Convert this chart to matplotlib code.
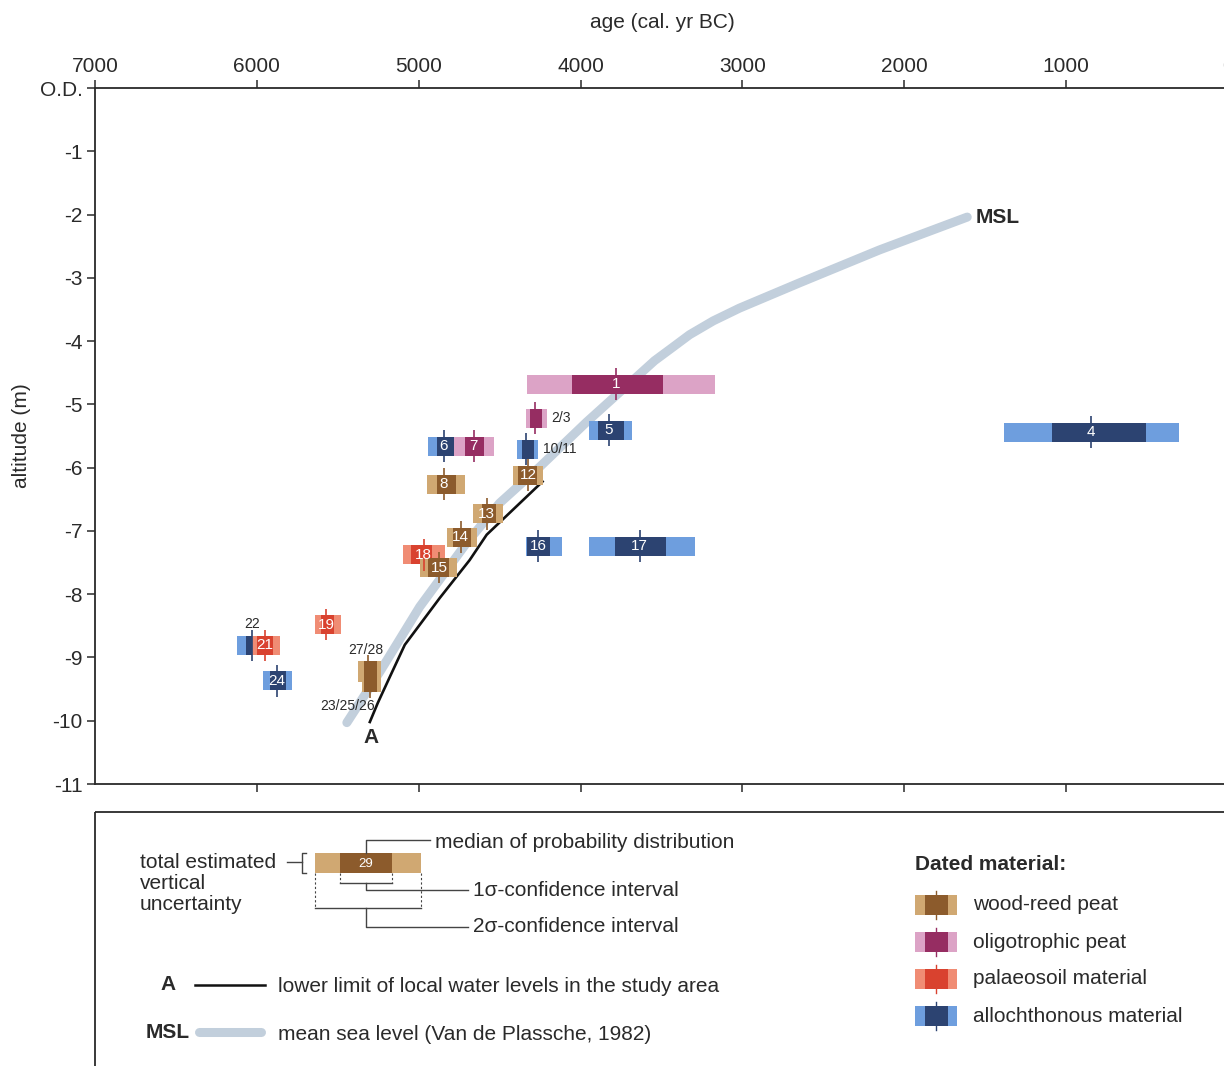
import matplotlib.pyplot as plt
from matplotlib.patches import Rectangle

plt.rcParams['font.family'] = ['Liberation Sans', 'DejaVu Sans']

# radiocarbon samples (cal. yr BC, altitude in m O.D.)
labels = ["1", "2/3", "4", "5", "6", "7", "8", "10/11", "12", "13", "14",
          "18", "15", "16", "17", "19", "22", "21", "24", "27/28", "23/25/26"]
material = ["oligo", "oligo", "alloch", "alloch", "alloch", "oligo", "wood",
            "alloch", "wood", "wood", "wood", "palaeo", "wood", "alloch",
            "alloch", "palaeo", "alloch", "palaeo", "alloch", "wood", "wood"]
sig2_old = [4330, 4335, 1385, 3945, 4940, 4780, 4950, 4390, 4420, 4665, 4825,
            5095, 4995, 4335, 3950, 5640, 6120, 6030, 5965, 5375, 5350]
sig2_young = [3170, 4210, 300, 3685, 4760, 4535, 4715, 4265, 4230, 4480, 4640,
              4840, 4765, 4115, 3290, 5480, 6025, 5860, 5780, 5230, 5230]
sig1_old = [4050, 4310, 1085, 3890, 4890, 4715, 4890, 4360, 4385, 4610, 4790,
            5045, 4945, 4330, 3790, 5605, 6070, 6000, 5920, 5340, 5340]
sig1_young = [3490, 4240, 505, 3730, 4785, 4595, 4770, 4290, 4270, 4520, 4675,
              4915, 4810, 4190, 3470, 5525, 6025, 5900, 5820, 5255, 5255]
median = [3780, 4280, 845, 3825, 4845, 4660, 4845, 4335, 4325, 4580, 4740,
          4970, 4875, 4260, 3635, 5570, 6030, 5950, 5875, 5315, 5300]
altitude = [-4.68, -5.22, -5.44, -5.41, -5.66, -5.66, -6.26, -5.71, -6.12, -6.73, -7.10,
            -7.38, -7.58, -7.24, -7.24, -8.48, -8.81, -8.81, -9.37, -9.22, -9.38]
v_unc = [0.30] * 19 + [0.33, 0.32]

# mean sea level (Van de Plassche, 1982)
msl_age = [5444, 5241, 4994, 4704, 4500, 4253, 3963, 3716, 3543, 3432, 3327, 3180,
           3019, 2648, 2154, 1611]
msl_alt = [-10.03, -9.23, -8.20, -7.19, -6.56, -5.99, -5.28, -4.71, -4.31, -4.10,
           -3.90, -3.68, -3.48, -3.08, -2.56, -2.04]

# line A: lower limit of local water levels
a_age = [5302, 5253, 5179, 5086, 4870, 4685, 4580, 4235]
a_alt = [-10.02, -9.72, -9.31, -8.80, -8.06, -7.46, -7.06, -6.22]

colors = {"wood": ("#d0a872", "#8c5b2c"),
          "oligo": ("#dca3c6", "#962d62"),
          "palaeo": ("#f08c74", "#d9422f"),
          "alloch": ("#6e9ede", "#2c4371")}
mat_names = [("wood", "wood-reed peat"), ("oligo", "oligotrophic peat"),
             ("palaeo", "palaeosoil material"), ("alloch", "allochthonous material")]

W, H = 1224, 1066
fig = plt.figure(figsize=(W / 100, H / 100), dpi=100)
fig.patch.set_facecolor("white")
ax = fig.add_axes([95 / W, 1 - 784 / H, 1133 / W, 696 / H])
ax.set_xlim(7000, 0)
ax.set_ylim(-11, 0)

ink = "#2a2a2a"
msl_col = "#c2cfdc"
fs = 15

ax.plot(msl_age, msl_alt, color=msl_col, lw=6.5, solid_capstyle="round",
        solid_joinstyle="round", zorder=1)
ax.plot(a_age, a_alt, color="#111111", lw=1.9, solid_joinstyle="round", zorder=2)

for i, lab in enumerate(labels):
    light, dark = colors[material[i]]
    y = altitude[i]
    h = v_unc[i]
    ax.barh(y, sig2_old[i] - sig2_young[i], left=sig2_young[i], height=h,
            color=light, lw=0, zorder=3)
    ax.barh(y, sig1_old[i] - sig1_young[i], left=sig1_young[i], height=h,
            color=dark, lw=0, zorder=3)
    ax.vlines(median[i], y - h / 2 - 0.1, y + h / 2 + 0.1, color=dark, lw=1.2, zorder=4)
    if lab == "2/3" or lab == "10/11":
        ax.text(sig2_young[i] - 30, y, lab, fontsize=10, color=ink, ha="left", va="center", zorder=5)
    elif lab == "22":
        ax.text(median[i], y + h / 2 + 0.08, lab, fontsize=10, color=ink, ha="center", va="bottom", zorder=5)
    elif lab == "27/28":
        ax.text(median[i] + 10, y + h / 2 + 0.06, lab, fontsize=10, color=ink, ha="center", va="bottom", zorder=5)
    elif lab == "23/25/26":
        ax.text(median[i] + 138, y - h / 2 - 0.12, lab, fontsize=10, color=ink, ha="center", va="top", zorder=5)
    else:
        ax.text(median[i], y, lab, fontsize=11, color="white", ha="center", va="center", zorder=5)

ax.text(msl_age[-1] - 50, msl_alt[-1], "MSL", fontsize=fs, fontweight="bold", color=ink,
        ha="left", va="center")
ax.text(a_age[0] - 5, a_alt[0] - 0.25, "A", fontsize=fs, fontweight="bold", color=ink,
        ha="center", va="center")

# axes styling
ax.spines["right"].set_visible(False)
for s in ["left", "top", "bottom"]:
    ax.spines[s].set_color(ink)
    ax.spines[s].set_linewidth(1.3)

xt = [7000, 6000, 5000, 4000, 3000, 2000, 1000, 0]
ax.set_xticks(xt)
ax.set_xticklabels([str(v) for v in xt])
ax.tick_params(axis="x", top=True, labeltop=True, bottom=True, labelbottom=False,
               direction="out", length=6, width=1.1, color=ink, labelsize=fs,
               labelcolor=ink, pad=3)
ax.xaxis.get_major_ticks()[0].tick1line.set_visible(False)

yt = list(range(0, -12, -1))
ax.set_yticks(yt)
ax.set_yticklabels(["O.D."] + [str(v) for v in yt[1:]])
ax.tick_params(axis="y", direction="out", length=6, width=1.1, color=ink,
               labelsize=fs, labelcolor=ink, pad=3)

ax.set_xlabel("age (cal. yr BC)", fontsize=fs, color=ink)
ax.xaxis.set_label_position("top")
ax.xaxis.set_label_coords(0.501, (784 - 23) / 696, transform=ax.transAxes)
ax.xaxis.label.set_va("center")
ax.set_ylabel("altitude (m)", fontsize=fs, color=ink)
ax.yaxis.set_label_coords((22 - 95) / 1133, 0.5)
ax.yaxis.label.set_va("center")

# legend panel drawn in pixel coordinates
lg = fig.add_axes([0, 0, 1, 1])
lg.set_xlim(0, W)
lg.set_ylim(H, 0)
lg.axis("off")
lg.add_patch(Rectangle((95, 812), 1300, 400, fill=False, ec=ink, lw=1.3))

gcol = "#444444"
lt, dk = colors["wood"]
lg.add_patch(Rectangle((315, 853), 106, 20, color=lt, lw=0))
lg.add_patch(Rectangle((340, 853), 52, 20, color=dk, lw=0))
lg.text(366, 864, "29", fontsize=9.5, color="white", ha="center", va="center")
lg.plot([366, 366, 430], [853, 840, 840], color=gcol, lw=1)
lg.text(435, 842, "median of probability distribution", fontsize=fs, color=ink, va="center")
lg.plot([306, 302, 302, 306], [853, 853, 873, 873], color=gcol, lw=1)
lg.plot([287, 302], [862, 862], color=gcol, lw=1)
for k, word in enumerate(["total estimated", "vertical", "uncertainty"]):
    lg.text(140, 862 + k * 21.5, word, fontsize=fs, color=ink, va="center", ha="left")
for xx in [315, 421]:
    lg.plot([xx, xx], [873, 908], color=gcol, lw=0.8, ls=(0, (2, 2)))
for xx in [340, 392]:
    lg.plot([xx, xx], [873, 883], color=gcol, lw=0.8, ls=(0, (2, 2)))
lg.plot([340, 392], [883, 883], color=gcol, lw=1)
lg.plot([366, 366, 468], [883, 890, 890], color=gcol, lw=1)
lg.text(473, 890, "1σ-confidence interval", fontsize=fs, color=ink, va="center")
lg.plot([315, 421], [908, 908], color=gcol, lw=1)
lg.plot([366, 366, 468], [908, 927, 927], color=gcol, lw=1)
lg.text(473, 927, "2σ-confidence interval", fontsize=fs, color=ink, va="center")

lg.text(168, 985, "A", fontsize=fs, fontweight="bold", color=ink, ha="center", va="center")
lg.plot([195, 265], [985, 985], color="#111111", lw=1.8)
lg.text(278, 986, "lower limit of local water levels in the study area", fontsize=fs,
        color=ink, va="center")
lg.text(146, 1032, "MSL", fontsize=fs, fontweight="bold", color=ink, ha="left", va="center")
lg.plot([199, 261], [1032, 1032], color=msl_col, lw=6.5, solid_capstyle="round")
lg.text(278, 1034, "mean sea level (Van de Plassche, 1982)", fontsize=fs, color=ink, va="center")

lg.text(915, 865, "Dated material:", fontsize=fs, fontweight="bold", color=ink, va="center")
for k, (key, name) in enumerate(mat_names):
    yc = 905 + k * 37
    lt, dk = colors[key]
    lg.add_patch(Rectangle((915, yc - 10), 42, 20, color=lt, lw=0))
    lg.add_patch(Rectangle((925, yc - 10), 23, 20, color=dk, lw=0))
    lg.plot([936, 936], [yc - 14, yc + 14], color=dk, lw=1)
    lg.text(973, yc, name, fontsize=fs, color=ink, va="center")

fig.savefig("out.png", dpi=100, facecolor="white")
